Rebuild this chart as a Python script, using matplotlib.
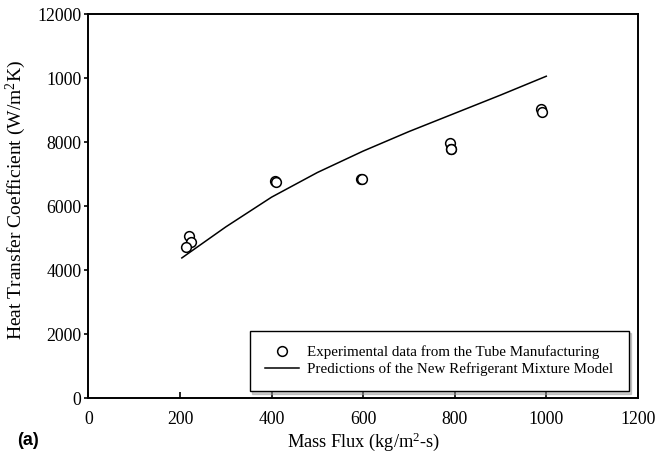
import matplotlib
matplotlib.use("Agg")
from matplotlib import pyplot as plt

plt.rcParams["font.family"] = ["Liberation Serif", "DejaVu Serif"]
plt.rcParams["mathtext.fontset"] = "custom"
plt.rcParams["mathtext.rm"] = "Liberation Serif"
plt.rcParams["mathtext.it"] = "Liberation Serif:italic"

# experimental points (kg/m2-s, W/m2K)
exp_flux = [220, 224, 214, 408, 409, 596, 598, 790, 792, 791, 988, 990]
exp_htc = [5060, 4880, 4720, 6780, 6740, 6860, 6850, 7960, 7800, 7770, 9030, 8930]

# model prediction curve
model_flux = [204, 300, 400, 500, 600, 700, 800, 900, 1000]
model_htc = [4380, 5350, 6280, 7050, 7720, 8330, 8900, 9470, 10060]

x_ticks = [0, 200, 400, 600, 800, 1000, 1200]
y_ticks = [0, 2000, 4000, 6000, 8000, 10000, 12000]
y_tick_labels = ["0", "2000", "4000", "6000", "8000", "1000", "12000"]

fig = plt.figure(figsize=(6.7, 4.57), dpi=100)
ax = fig.add_axes([0.132, 0.129, 0.820, 0.840])

ax.plot(exp_flux, exp_htc, linestyle="none", marker="o", markersize=7,
        markerfacecolor="white", markeredgecolor="black", markeredgewidth=1.1,
        label="Experimental data from the Tube Manufacturing")
ax.plot(model_flux, model_htc, color="black", linewidth=1.1,
        label="Predictions of the New Refrigerant Mixture Model")

ax.set_xlim(0, 1200)
ax.set_ylim(0, 12000)
ax.set_xticks(x_ticks)
ax.set_yticks(y_ticks)
ax.set_yticklabels(y_tick_labels)
ax.tick_params(axis="x", direction="in", length=4, width=1.2, pad=9, labelsize=12.8)
ax.tick_params(axis="y", direction="out", length=3, width=1.2, pad=2, labelsize=12.8)
for spine in ax.spines.values():
    spine.set_linewidth(1.4)

ax.set_xlabel("Mass Flux (kg/m$^2$-s)", fontsize=13.2)
ax.set_ylabel("Heat Transfer Coefficient (W/m$^2$K)", fontsize=14)
ax.xaxis.set_label_coords(0.5, -0.085)
ax.yaxis.set_label_coords(-0.110, 0.515)

leg = ax.legend(loc="lower right", bbox_to_anchor=(0.983, 0.018), fontsize=10.8,
                frameon=True, fancybox=False, shadow={"color": "#9a9a9a"},
                handlelength=2.3, handletextpad=0.55, labelspacing=0.2,
                borderpad=1.0, borderaxespad=0)
leg.get_frame().set_edgecolor("black")
leg.get_frame().set_linewidth(1.0)

fig.text(0.025, 0.037, "(a)", fontsize=13, fontweight="bold", va="center",
         family=["Liberation Sans", "DejaVu Sans"])

plt.savefig("out.png", dpi=100)
plt.close()
